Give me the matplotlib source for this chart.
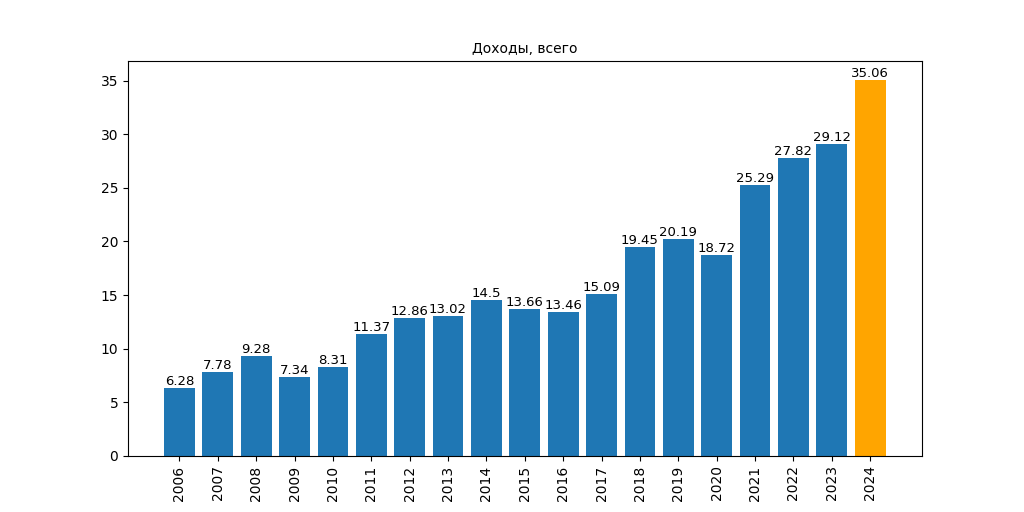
import matplotlib
matplotlib.use('Agg')
import matplotlib.pyplot as plt

# Data
years = ['2006', '2007', '2008', '2009', '2010', '2011', '2012', '2013', '2014',
         '2015', '2016', '2017', '2018', '2019', '2020', '2021', '2022', '2023', '2024']
income = [6.28, 7.78, 9.28, 7.34, 8.31, 11.37, 12.86, 13.02, 14.5,
          13.66, 13.46, 15.09, 19.45, 20.19, 18.72, 25.29, 27.82, 29.12, 35.06]
highlight = '2024'

fig, ax = plt.subplots(figsize=(10.24, 5.12), dpi=100)
colors = ['orange' if y == highlight else '#1f77b4' for y in years]
bars = ax.bar(years, income, color=colors)
ax.bar_label(bars, labels=[str(v) for v in income], padding=0, fontsize=9.5)
ax.set_title('Доходы, всего', fontsize=10)
plt.xticks(rotation=90)

fig.savefig('out.png', dpi=100)
